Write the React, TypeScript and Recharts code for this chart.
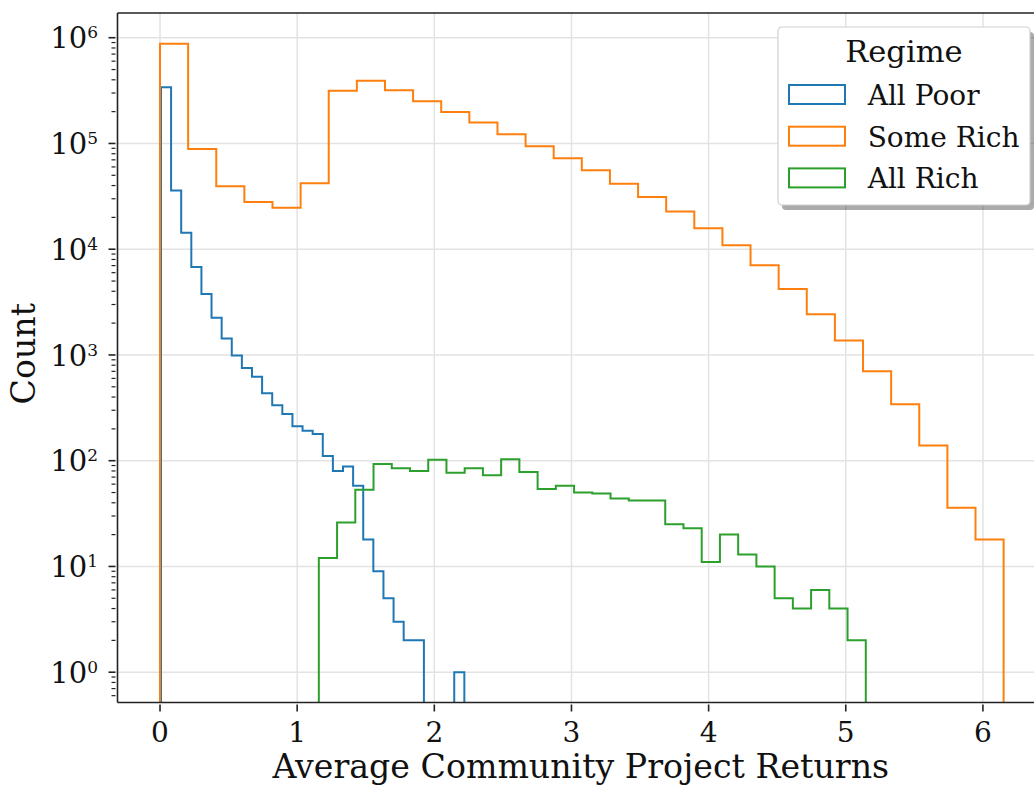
import React from "react";
import {
  ComposedChart,
  Line,
  XAxis,
  YAxis,
  ReferenceLine,
  Legend,
  Label,
} from "recharts";

const FONT = "'DejaVu Serif', serif";

const REGIMES = ["All Poor", "Some Rich", "All Rich"];
const COLORS = ["#1f77b4", "#ff7f0e", "#2ca02c"];

// first and last bin edge of each histogram (30 equal bins each)
const POOR_RANGE = [0.007, 2.219];
const SOME_RICH_RANGE = [0, 6.151];
const ALL_RICH_RANGE = [1.158, 5.146];

const POOR_COUNTS = [
  341000, 36000, 14300, 6800, 3780, 2250, 1430, 990, 751, 621, 435, 335, 277,
  212, 192, 179, 111, 80, 88, 58, 18, 9, 5, 3, 2, 2, 0, 0, 0, 1,
];
const SOME_RICH_COUNTS = [
  877000, 88700, 39500, 27900, 24700, 42000, 315000, 392000, 319000, 251000,
  198000, 158000, 122000, 94000, 72400, 55700, 41700, 31100, 22700, 15800,
  10900, 7050, 4200, 2420, 1370, 703, 342, 139, 36, 18,
];
const ALL_RICH_COUNTS = [
  12, 26, 53, 93, 85, 80, 102, 77, 85, 73, 103, 78, 54, 58, 50, 49, 44, 42, 42,
  25, 23, 11, 20, 13, 10, 5, 4, 6, 4, 2,
];

const X_TICKS = [0, 1, 2, 3, 4, 5, 6];
const Y_DECADES = [0, 1, 2, 3, 4, 5, 6];

const X_DOMAIN = [-0.31, 6.46];
const Y_DOMAIN = [0.517, 1.713e6];
// empty bins drop below the visible range, like a log axis clipping zero
const FLOOR = 0.1;

// outline of a step histogram: up the first edge, across each bin, down the last edge
function stepOutline(range: number[], counts: number[]) {
  const w = (range[1] - range[0]) / counts.length;
  const pts = [{ x: range[0], y: FLOOR }];
  counts.forEach((c, i) => {
    const v = c > 0 ? c : FLOOR;
    pts.push({ x: range[0] + i * w, y: v });
    pts.push({ x: range[0] + (i + 1) * w, y: v });
  });
  pts.push({ x: range[1], y: FLOOR });
  return pts;
}

const SERIES = [
  stepOutline(POOR_RANGE, POOR_COUNTS),
  stepOutline(SOME_RICH_RANGE, SOME_RICH_COUNTS),
  stepOutline(ALL_RICH_RANGE, ALL_RICH_COUNTS),
];

// major decades plus minor 2..9 ticks inside the y range
const Y_TICKS: number[] = [];
for (let d = -1; d <= 6; d++) {
  for (let m = 1; m <= 9; m++) {
    const v = m * Math.pow(10, d);
    if (v >= Y_DOMAIN[0] && v <= Y_DOMAIN[1]) Y_TICKS.push(v);
  }
}

const AXIS = "#222";

const YTick = (props: any) => {
  const { x, y, payload } = props;
  const v = payload.value;
  const exp = Math.round(Math.log10(v));
  const major = Math.abs(v - Math.pow(10, exp)) < 1e-6 * v;
  return (
    <g>
      <line
        x1={x - (major ? 7 : 4)}
        x2={x}
        y1={y}
        y2={y}
        stroke={AXIS}
        strokeWidth={major ? 1.6 : 1.2}
      />
      {major && (
        <text
          x={x - 17.5}
          y={y + 10.6}
          textAnchor="end"
          fontFamily={FONT}
          fontSize={29}
          fill="#111"
        >
          <tspan>10</tspan>
          <tspan dy={-10} fontSize={17}>
            {exp}
          </tspan>
        </text>
      )}
    </g>
  );
};

const XTick = (props: any) => {
  const { x, y, payload } = props;
  return (
    <g>
      <line x1={x} x2={x} y1={y} y2={y + 7} stroke={AXIS} strokeWidth={1.6} />
      <text
        x={x}
        y={y + 37.5}
        textAnchor="middle"
        fontFamily={FONT}
        fontSize={28}
        fill="#111"
      >
        {payload.value}
      </text>
    </g>
  );
};

const RegimeLegend = () => (
  <svg width={262} height={190}>
    <rect x={5} y={6} width={252} height={178} rx={4} fill="#000" opacity={0.33} />
    <rect
      x={1}
      y={1}
      width={252}
      height={178}
      rx={4}
      fill="#fff"
      stroke="#d0d0d0"
      strokeWidth={1.2}
    />
    <text
      x={127}
      y={36.3}
      textAnchor="middle"
      fontFamily={FONT}
      fontSize={30.5}
      fill="#111"
    >
      Regime
    </text>
    {REGIMES.map((name, i) => (
      <g key={name}>
        <rect
          x={12}
          y={59 + i * 41.7}
          width={56}
          height={19}
          fill="none"
          stroke={COLORS[i]}
          strokeWidth={2}
        />
        <text
          x={90.7}
          y={79 + i * 41.7}
          fontFamily={FONT}
          fontSize={28}
          fill="#111"
        >
          {name}
        </text>
      </g>
    ))}
  </svg>
);

export default function App() {
  return (
    <div
      style={{
        position: "fixed",
        left: 0,
        top: 0,
        width: 1034,
        height: 786,
        overflow: "hidden",
        background: "#fff",
      }}
    >
      <ComposedChart
        width={1060}
        height={786}
        margin={{ top: 13, right: 14, left: 0, bottom: 0 }}
      >
        <XAxis
          type="number"
          dataKey="x"
          domain={X_DOMAIN}
          allowDataOverflow
          ticks={X_TICKS}
          interval={0}
          height={83.5}
          tickSize={0}
          tickLine={false}
          tick={<XTick />}
          axisLine={{ stroke: AXIS, strokeWidth: 1.6 }}
        >
          <Label
            content={(p: any) => {
              const vb = p.viewBox;
              return (
                <text
                  x={vb.x + vb.width / 2 - 1}
                  y={vb.y + 75.8}
                  textAnchor="middle"
                  fontFamily={FONT}
                  fontSize={33.2}
                  fill="#111"
                >
                  Average Community Project Returns
                </text>
              );
            }}
          />
        </XAxis>
        <YAxis
          type="number"
          scale="log"
          domain={Y_DOMAIN}
          allowDataOverflow
          ticks={Y_TICKS}
          interval={0}
          width={117.5}
          tickSize={0}
          tickLine={false}
          tick={<YTick />}
          axisLine={{ stroke: AXIS, strokeWidth: 1.6 }}
        >
          <Label
            content={(p: any) => {
              const vb = p.viewBox;
              const cy = vb.y + vb.height / 2 - 4;
              return (
                <text
                  x={35}
                  y={cy}
                  transform={`rotate(-90, 35, ${cy})`}
                  textAnchor="middle"
                  fontFamily={FONT}
                  fontSize={33.2}
                  fill="#111"
                >
                  Count
                </text>
              );
            }}
          />
        </YAxis>
        {X_TICKS.map((t) => (
          <ReferenceLine
            key={`gx-${t}`}
            x={t}
            stroke="#e3e3e3"
            strokeWidth={1.5}
          />
        ))}
        {Y_DECADES.map((d) => (
          <ReferenceLine
            key={`gy-${d}`}
            y={Math.pow(10, d)}
            stroke="#e3e3e3"
            strokeWidth={1.5}
          />
        ))}
        {/* top spine of the axes frame */}
        <ReferenceLine
          y={Y_DOMAIN[1]}
          stroke={AXIS}
          strokeWidth={1.6}
          ifOverflow="visible"
        />
        {SERIES.map((pts, i) => (
          <Line
            key={REGIMES[i]}
            name={REGIMES[i]}
            data={pts}
            dataKey="y"
            type="linear"
            stroke={COLORS[i]}
            strokeWidth={2}
            dot={false}
            activeDot={false}
            isAnimationActive={false}
          />
        ))}
        <Legend
          layout="vertical"
          align="center"
          verticalAlign="middle"
          wrapperStyle={{ left: 777, top: 26, width: 262, height: 190 }}
          content={() => <RegimeLegend />}
        />
      </ComposedChart>
    </div>
  );
}
